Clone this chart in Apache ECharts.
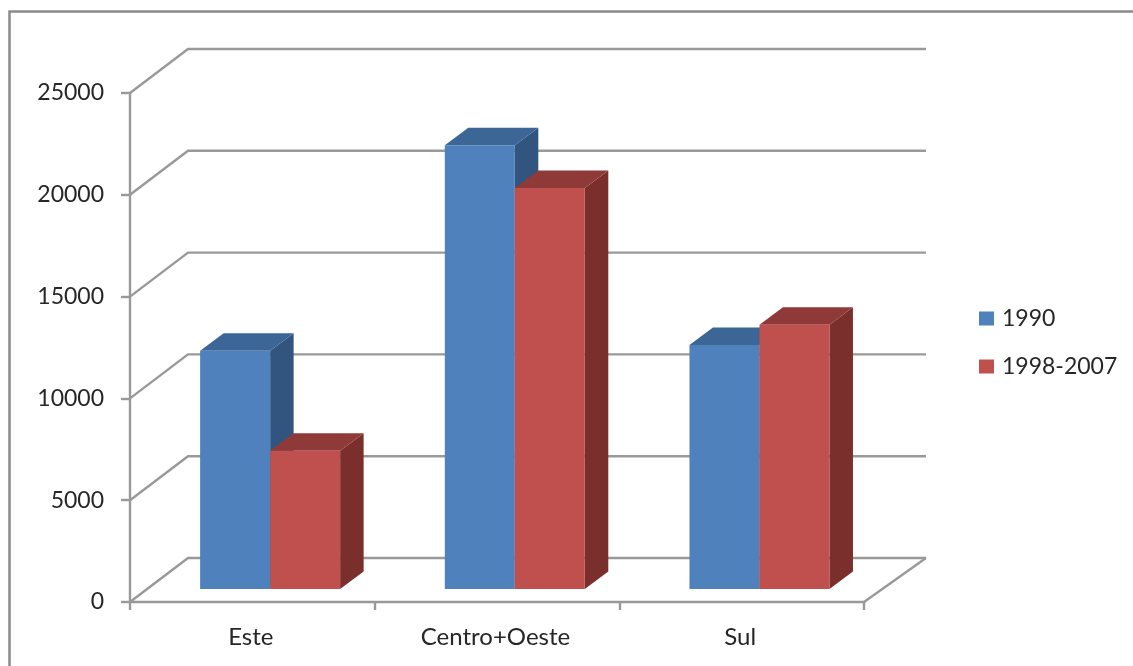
<!DOCTYPE html>
<html>
<head>
<meta charset="utf-8">
<style>html,body{margin:0;padding:0;background:#fff}#chart{width:1133px;height:666px}</style>
<script src="https://cdn.jsdelivr.net/npm/echarts@6/dist/echarts.min.js"></script>
</head>
<body>
<div id="chart"></div>
<script>
// Regional totals for the two periods
const categories = ['Este', 'Centro+Oeste', 'Sul'];
const values1990 = [11700, 21790, 11980];
const values19982007 = [6790, 19700, 12980];
const yTicks = [0, 5000, 10000, 15000, 20000, 25000];

const FONT = 'Lato';
const TEXT = '#262626';
const LINE = '#999999';
const LINE_WIDTH = 2.4;

// Oblique projection used for the box faces and the back wall
const WALL_DX = 58, WALL_DY = 44, WALL_RIGHT_DX = 62;
const BAR_DX = 23.5, BAR_DY = 17.5, BAR_LIFT = 13;
const BAR_FRACTION = 70 / 244.67, BAR_SHIFT = 17.8;

function face(points, color) {
  return { type: 'polygon', shape: { points }, style: { fill: color } };
}

function barSeries(name, values, front, top, side, firstOfPair) {
  return {
    name,
    type: 'custom',
    itemStyle: { color: front },
    data: values.map((v, i) => [i, v]),
    encode: { x: 0, y: 1 },
    z: 5,
    renderItem(params, api) {
      const width = api.size([1, 0])[0] * BAR_FRACTION;
      const head = api.coord([api.value(0), api.value(1)]);
      const foot = api.coord([api.value(0), 0]);
      const xl = head[0] + BAR_SHIFT - (firstOfPair ? width : 0);
      const xr = xl + width;
      const yt = head[1] - BAR_LIFT;
      const yb = foot[1] - BAR_LIFT;
      return {
        type: 'group',
        children: [
          face([[xr, yt], [xr + BAR_DX, yt - BAR_DY], [xr + BAR_DX, yb - BAR_DY], [xr, yb]], side),
          face([[xl, yt], [xl + BAR_DX, yt - BAR_DY], [xr + BAR_DX, yt - BAR_DY], [xr, yt]], top),
          face([[xl, yt], [xr, yt], [xr, yb], [xl, yb]], front)
        ]
      };
    }
  };
}

const wallSeries = {
  name: 'wall',
  type: 'custom',
  silent: true,
  data: yTicks.map(v => [0, v]),
  encode: { x: 0, y: 1 },
  z: 1,
  renderItem(params, api) {
    const sys = params.coordSys;
    const y = api.coord([0, api.value(1)])[1];
    const right = sys.x + sys.width + WALL_RIGHT_DX;
    const children = [{
      type: 'polyline',
      shape: { points: [[sys.x, y], [sys.x + WALL_DX, y - WALL_DY], [right, y - WALL_DY]] },
      style: { stroke: LINE, lineWidth: LINE_WIDTH, fill: 'none' }
    }];
    if (api.value(1) === 0) {
      // right edge of the floor
      children.push({
        type: 'line',
        shape: { x1: right, y1: y - WALL_DY, x2: sys.x + sys.width, y2: y },
        style: { stroke: LINE, lineWidth: LINE_WIDTH }
      });
    }
    return { type: 'group', children };
  }
};

const chart = echarts.init(document.getElementById('chart'), null, { renderer: 'canvas' });
chart.setOption({
  animation: false,
  backgroundColor: '#ffffff',
  textStyle: { fontFamily: FONT, color: TEXT },
  grid: { left: 130, top: 93, width: 734, height: 509, containLabel: false },
  graphic: [{
    type: 'polyline',
    shape: { points: [[9.5, 666], [9.5, 11.5], [1133, 11.5]] },
    style: { stroke: '#8a8a8a', lineWidth: 2.5, fill: 'none' },
    silent: true
  }],
  legend: {
    orient: 'vertical',
    left: 974,
    top: 302,
    itemWidth: 15,
    itemHeight: 14,
    itemGap: 25,
    icon: 'rect',
    data: ['1990', '1998-2007'],
    textStyle: { fontFamily: FONT, fontSize: 23, color: TEXT, padding: [0, 0, 0, 3] },
    selectedMode: false
  },
  xAxis: {
    type: 'category',
    data: categories,
    axisLine: { lineStyle: { color: LINE, width: LINE_WIDTH } },
    axisTick: { show: true, length: 8, alignWithLabel: false, lineStyle: { color: LINE, width: LINE_WIDTH } },
    axisLabel: { fontFamily: FONT, fontSize: 24, color: TEXT, margin: 23, padding: [0, 3, 0, 0] },
    splitLine: { show: false }
  },
  yAxis: {
    type: 'value',
    min: 0,
    max: 25000,
    interval: 5000,
    axisLine: { show: true, lineStyle: { color: LINE, width: LINE_WIDTH } },
    axisTick: { show: true, length: 9, lineStyle: { color: LINE, width: LINE_WIDTH } },
    axisLabel: {
      fontFamily: FONT, fontSize: 23, color: TEXT, margin: 26,
      padding: [7, 0, 0, 0],
      formatter: v => String(v)
    },
    splitLine: { show: false }
  },
  series: [
    wallSeries,
    barSeries('1990', values1990, '#4f81bd', '#3c6696', '#32557f', true),
    barSeries('1998-2007', values19982007, '#c0504d', '#8f3a38', '#7b2f2d', false)
  ]
});
</script>
</body>
</html>
